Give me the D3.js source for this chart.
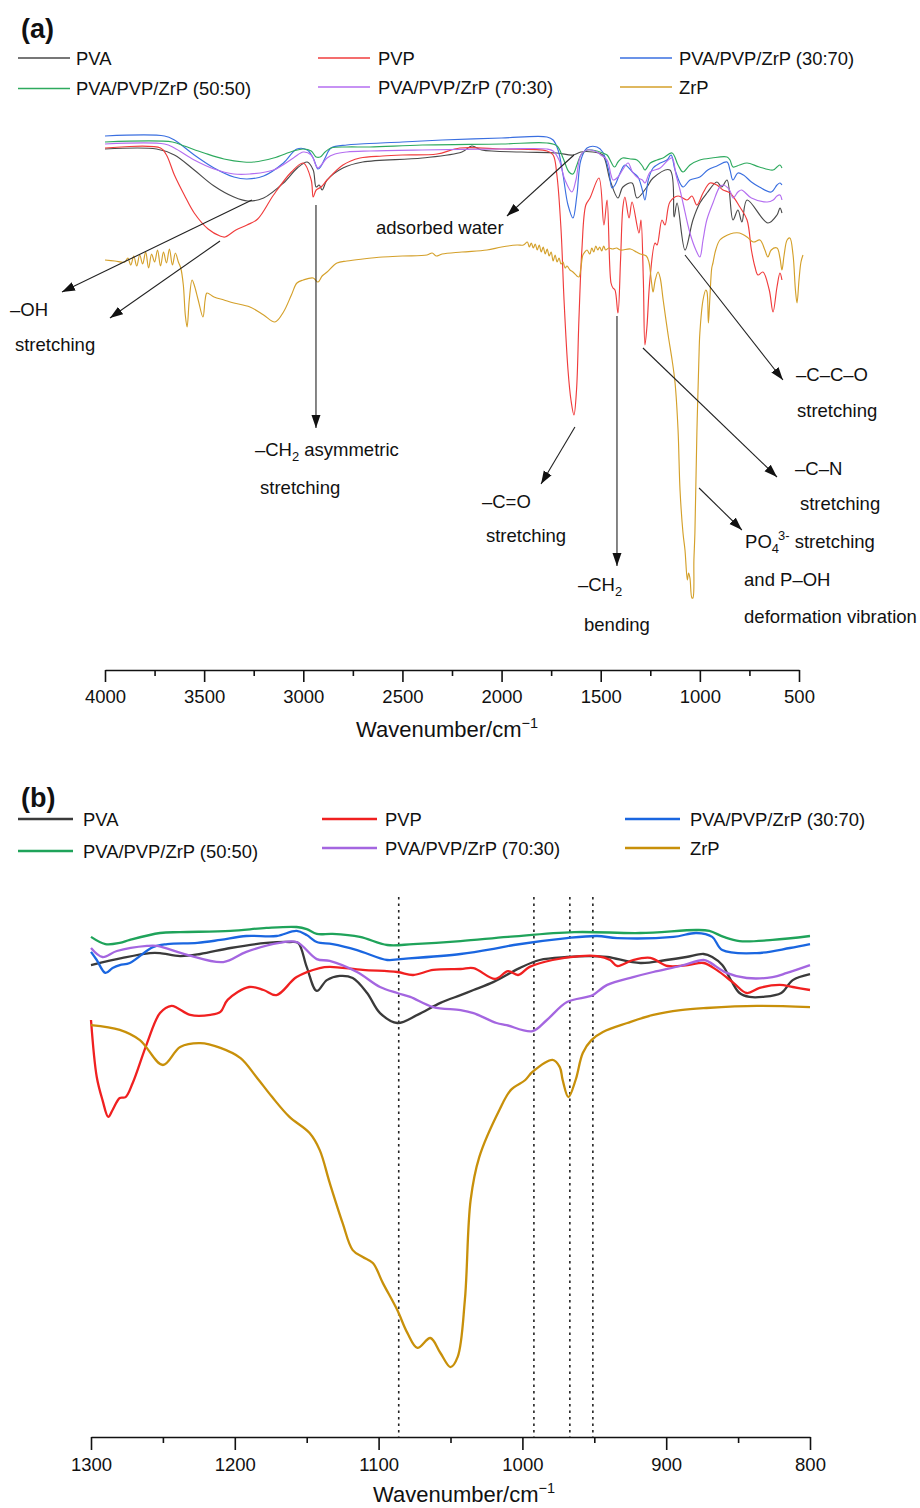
<!DOCTYPE html>
<html>
<head>
<meta charset="utf-8">
<script src="https://cdn.jsdelivr.net/npm/d3@7"></script>
<style>
  body { margin: 0; background: #fff; }
  svg text { font-family: "Liberation Sans", Arial, Helvetica, sans-serif; fill: #111; }
</style>
</head>
<body>
<svg id="chart" width="920" height="1508"></svg>
<script>
// ---------- series names and colours ----------
const seriesNames = ["PVA", "PVP", "PVA/PVP/ZrP (30:70)", "PVA/PVP/ZrP (50:50)", "PVA/PVP/ZrP (70:30)", "ZrP"];
const coloursA = ["#4a4a4a", "#f03c3c", "#3a6fe0", "#2eaa5e", "#b46ef0", "#d4a02a"];
const coloursB = ["#3a3a3a", "#f02020", "#1a66e0", "#1fa35a", "#a466e0", "#c8900a"];

// ---------- axis ticks ----------
const ticksA = [4000, 3500, 3000, 2500, 2000, 1500, 1000, 500];
const minorA = [3750, 3250, 2750, 2250, 1750, 1250, 750];
const ticksB = [1300, 1200, 1100, 1000, 900, 800];
const minorB = [1250, 1150, 1050, 950, 850];

// ---------- (a) full FTIR spectra: [wavenumber cm^-1, transmittance a.u.] ----------
const pvaA = [[4000,125.25],[3740,125.25],[3650,123.75],[3550,120],[3450,116],[3350,113.25],[3280,112.25],[3200,113],[3100,116.75],[3030,120.5],[2980,122],[2950,120],[2935,115.75],[2920,116.25],[2905,115],[2880,117.5],[2800,120.5],[2700,122],[2400,123],[2200,124.5],[2150,126],[2100,125],[1900,124.5],[1721,124.25],[1640,123.75],[1600,124.5],[1540,124.5],[1490,123.75],[1453,117.5],[1413,113],[1388,115.75],[1342,116.75],[1317,113],[1267,115.75],[1236,118],[1151,120],[1130,108.25],[1115,111.75],[1075,100],[1035,107.5],[1000,111.75],[964,114.25],[914,117],[890,115.75],[863,117.5],[833,107.5],[808,110],[788,107],[762,112.5],[657,106.75],[611,108.75],[596,110.5],[586,109.25]];

const pvpA = [[4000,125.5],[3720,125.5],[3690,123.75],[3650,118.75],[3600,113.75],[3550,109.25],[3480,105.25],[3420,103.5],[3395,103.25],[3340,105],[3284,106.25],[3230,107.75],[3150,113.75],[3060,119.5],[3000,121.75],[2960,117.5],[2950,113.25],[2935,115],[2910,115.75],[2880,117.5],[2800,121.25],[2714,123],[2600,123.5],[2500,123.75],[2326,124],[2210,125.5],[2000,125.25],[1771,124.75],[1740,123.75],[1721,118.75],[1700,105],[1685,87.5],[1665,70],[1650,62.5],[1635,58.75],[1622,65],[1610,82.5],[1595,100],[1575,111.25],[1554,113],[1509,118],[1484,106.25],[1468,112.5],[1448,91.75],[1438,90.5],[1428,90],[1413,84.25],[1400,97.5],[1388,110.75],[1378,113.25],[1357,108],[1342,112],[1307,104.25],[1297,107.5],[1285,92.5],[1277,76.25],[1267,80.75],[1252,92.5],[1226,101.75],[1216,101.25],[1191,107.5],[1176,106.25],[1151,112],[1110,113.5],[1065,112.5],[1040,113.5],[1015,111.25],[984,114.25],[949,116.75],[914,116.25],[883,115],[848,114.25],[798,110.75],[762,107.5],[740,100],[722,95.75],[707,93.75],[682,94.5],[650,90],[631,84.5],[611,90.75],[596,94.25],[586,92.5]];

const blend3070A = [[4000,128.5],[3700,128.5],[3650,127.5],[3550,123.75],[3450,120.5],[3350,118.25],[3284,117.75],[3200,118.5],[3100,121.75],[3032,125.25],[2980,125],[2950,123],[2926,120.25],[2910,121],[2890,123],[2860,125.5],[2780,126.25],[2714,126.5],[2500,127],[2300,127.5],[2000,128],[1771,128.25],[1740,127.5],[1715,125],[1690,118.75],[1665,111.25],[1640,108],[1620,113.75],[1600,122.5],[1569,125.5],[1519,125.75],[1490,124.5],[1460,120],[1443,115.5],[1428,116.25],[1400,119.5],[1378,121.25],[1340,119.5],[1312,118.25],[1290,115],[1277,112.5],[1260,117.5],[1236,120.5],[1200,121.75],[1166,122.5],[1145,123.75],[1125,120],[1085,115.75],[1050,117.5],[1000,118.25],[960,120],[914,121],[863,122],[848,120],[833,117.5],[808,119.25],[780,118.75],[740,117],[700,115.75],[640,114.5],[611,116.25],[596,116.75],[586,116.25]];

const blend5050A = [[4000,127],[3660,127],[3600,126],[3500,124.25],[3400,122.75],[3300,122],[3250,122],[3150,123],[3050,124.75],[3000,125.25],[2960,124.75],[2935,123.25],[2915,123.25],[2890,124.5],[2860,125.5],[2780,125.75],[2664,125.75],[2400,126.25],[2000,126.5],[1771,126.75],[1720,126],[1690,123],[1660,119.5],[1640,119],[1620,121.25],[1600,123.75],[1569,125],[1519,124.75],[1490,124.25],[1468,123.75],[1430,120.75],[1413,122],[1390,123],[1350,122.75],[1317,122.5],[1290,121],[1277,120],[1250,121.75],[1216,122.5],[1186,123],[1140,124.25],[1110,121.25],[1085,119.5],[1050,121.25],[1000,122.5],[940,123],[863,123.25],[848,122.5],[833,120.75],[800,121.25],[762,121.75],[700,120.75],[631,120],[611,120.75],[596,121.25],[586,120.5]];

const blend7030A = [[4000,126.5],[3700,126.5],[3650,125.5],[3550,122.5],[3450,120.25],[3350,119],[3269,119],[3150,120],[3050,123],[3000,124.5],[2960,123.75],[2935,121],[2926,120.5],[2905,121.5],[2880,123],[2840,124],[2780,124.5],[2664,124.75],[2400,125],[2000,125.25],[1771,125.25],[1740,124.75],[1710,122.5],[1680,117.5],[1645,114.5],[1625,117.5],[1600,123.75],[1569,125],[1519,124.5],[1500,123.75],[1468,122.5],[1448,118.75],[1438,117.5],[1413,118.25],[1390,120],[1362,121.75],[1340,119.5],[1312,118],[1290,117.5],[1277,116.75],[1250,119.5],[1200,120.5],[1160,122.5],[1140,123],[1120,118.75],[1100,115],[1085,111.75],[1050,104.25],[1020,100],[1000,98.25],[984,102.5],[965,107.5],[934,111.75],[900,115.75],[883,116.25],[850,115],[833,113],[808,114.5],[790,115],[740,113],[660,112],[630,112.5],[611,113.5],[596,113.75],[586,112.5]];

const zrpA = [[4000,97.5],[3950,97.25],[3900,97],[3885,98],[3870,96.25],[3855,98.5],[3840,96],[3825,98.75],[3810,96.5],[3795,99.5],[3780,95.5],[3765,99],[3750,97],[3735,100],[3720,96],[3705,99.5],[3690,96.75],[3675,100.25],[3660,96.25],[3645,99.25],[3630,97],[3618,95.5],[3605,91.25],[3595,83.75],[3586,80.75],[3575,87.5],[3561,92.5],[3550,91.25],[3530,87.5],[3506,83.25],[3495,87.5],[3486,89.25],[3450,88.25],[3400,87.5],[3350,86.75],[3269,85.75],[3200,83.75],[3143,82],[3100,84.5],[3060,88.75],[3032,91.75],[3000,92.5],[2950,93],[2926,92],[2905,93.5],[2880,94.5],[2830,96.75],[2780,97.25],[2700,97.75],[2600,98.25],[2500,98.5],[2376,98.75],[2350,99.25],[2330,98.5],[2300,99],[2200,99.5],[2074,100],[2000,100.75],[1922,101.25],[1890,101.25],[1870,102],[1860,100.75],[1850,101.75],[1840,100.5],[1830,101.5],[1820,100],[1810,101.25],[1800,99.5],[1790,100.75],[1780,99],[1770,100.25],[1760,98.5],[1750,99.5],[1740,97.25],[1730,98.75],[1720,97],[1710,98],[1700,96.5],[1690,97],[1680,95.5],[1670,96],[1655,95],[1640,94.5],[1620,93.5],[1610,93.25],[1600,95.5],[1590,98.75],[1580,99.5],[1569,100],[1555,99],[1545,100.5],[1535,99.5],[1525,101],[1515,100],[1505,100.75],[1495,99.75],[1485,101],[1475,100],[1460,100.5],[1440,100.25],[1420,100.5],[1400,100],[1350,100.25],[1320,99.5],[1300,99],[1270,98.5],[1257,97],[1245,92.5],[1236,89.5],[1225,92.5],[1211,94.5],[1200,93],[1185,87.5],[1160,78.75],[1140,72.5],[1125,66.75],[1110,55],[1100,40],[1085,29.25],[1075,25],[1063,17.5],[1057,19.25],[1050,18],[1040,13],[1035,13],[1030,22.5],[1025,29.25],[1015,54.25],[1005,72.5],[1000,79.25],[984,87.5],[970,90],[964,89.5],[957,81.75],[950,87.5],[940,95.5],[934,96.75],[920,100],[899,102.5],[860,103.75],[830,104.25],[800,104.25],[762,103.25],[730,102],[697,102.5],[672,100],[657,98.25],[640,100],[611,100.5],[596,98],[586,95],[575,98.75],[560,102.5],[546,103],[530,98.75],[518,90],[510,86.75],[500,92.5],[490,97],[480,98.75]];

// ---------- (b) 1300–800 cm^-1 region: [wavenumber cm^-1, transmittance a.u.] ----------
const pvaB = [[1300,157.3],[1278,159.7],[1259,161.3],[1252,161.3],[1238,160.3],[1224,161],[1203,163],[1178,164.7],[1162,165],[1156,164.7],[1150,156.7],[1143,148.7],[1136,152.3],[1127,153.7],[1118,153],[1108,148],[1099,141.3],[1087,138],[1073,140.7],[1057,144.7],[1043,147.3],[1034,149],[1020,151.7],[1002,156.3],[988,159],[969,160],[953,160.3],[941,160],[918,158],[900,159],[886,160],[874,161],[868,160],[861,157.3],[855,152.3],[849,148],[842,146.7],[833,146.7],[820,148],[812,152.3],[800,154.3]];

const pvpB = [[1300,139],[1296,120],[1292,112.3],[1288,106.7],[1285,109],[1280,113],[1276,113.3],[1271,118],[1261,131.3],[1252,141.3],[1244,143.7],[1240,143],[1231,140.7],[1217,140.7],[1210,141.7],[1205,145.7],[1190,150],[1180,149],[1171,147.3],[1157,153.3],[1141,156.3],[1134,156.7],[1111,155.7],[1087,155],[1076,154],[1062,155.7],[1043,156],[1034,156.3],[1019,152.7],[1010,155.3],[1003,154],[995,156.7],[979,159],[960,160.3],[948,160.3],[939,159],[934,157],[923,159],[911,159.7],[899,157],[885,157.3],[874,158],[865,155.7],[853,151.3],[844,148],[835,149.7],[821,150.7],[812,150],[800,149]];

const blend3070B = [[1300,161.7],[1296,159],[1290,154.7],[1285,156.3],[1280,157.3],[1273,158],[1257,163.3],[1247,164.3],[1226,164.7],[1210,165.7],[1192,167],[1171,167],[1157,168.7],[1150,167.3],[1143,165],[1132,164.3],[1115,162.3],[1094,159],[1085,159.3],[1043,161],[1020,162.7],[1006,164],[969,166.3],[948,167],[934,166.3],[895,166.7],[879,168],[868,166.7],[861,162.3],[837,161.3],[814,163],[800,164.3]];

const blend5050B = [[1300,166.7],[1290,164.3],[1280,164.7],[1273,165.7],[1252,168],[1238,168.3],[1203,168.7],[1178,169.7],[1157,170],[1150,169.3],[1143,167.7],[1132,167.7],[1113,166.7],[1094,164],[1076,164.3],[1043,165.3],[1010,166.7],[964,168.3],[918,168],[879,169],[870,168.7],[860,166.7],[849,165.3],[826,165.7],[800,167]];

const blend7030B = [[1300,163],[1292,160],[1282,162],[1261,163.7],[1254,163.7],[1233,160.7],[1208,158.3],[1192,161.7],[1169,164.7],[1157,165],[1143,159.3],[1134,158.7],[1115,155],[1099,150],[1087,148],[1078,146.7],[1062,143.3],[1043,142.3],[1034,141.3],[1018,138],[1011,137.3],[993,135.3],[983,139],[969,145],[955,146.7],[951,147.3],[941,150.7],[923,153.3],[909,155],[890,157],[874,159],[870,158.3],[858,154.7],[844,153],[826,153.3],[816,154.7],[800,157.3]];

const zrpB = [[1300,137.3],[1280,135.7],[1266,132.3],[1250,124],[1238,130],[1224,131.3],[1210,129.7],[1196,126.3],[1185,120],[1174,113.3],[1162,106.7],[1148,101.3],[1141,95.7],[1134,84.7],[1125,71.3],[1118,62.3],[1111,60],[1104,58],[1097,51.3],[1087,42.3],[1080,34.7],[1073,29.7],[1064,33],[1057,28],[1050,23.3],[1045,26.7],[1040,45.7],[1036,79],[1030,93.3],[1016,109],[1008,115.7],[998,119],[993,121.7],[979,125.7],[974,123.3],[972,119],[968,113.3],[963,119],[958,128],[952,132.3],[944,135],[927,138],[909,140.7],[890,142.3],[872,143],[837,143.7],[800,143.3]];

// marked band positions in (b), cm^-1
const bandLinesB = [1086, 992, 967, 951];

const dataA = [pvaA, pvpA, blend3070A, blend5050A, blend7030A, zrpA];
const dataB = [pvaB, pvpB, blend3070B, blend5050B, blend7030B, zrpB];

// ---------- scales ----------
const xA = d3.scaleLinear().domain([4000, 500]).range([105, 799]);
const yA = d3.scaleLinear().domain([0, 130]).range([650, 130]);
const xB = d3.scaleLinear().domain([1300, 800]).range([91, 810]);
const yB = d3.scaleLinear().domain([0, 180]).range([1437, 897]);

const svg = d3.select("#chart");

svg.append("defs").append("marker")
  .attr("id", "head")
  .attr("markerUnits", "userSpaceOnUse")
  .attr("markerWidth", 14).attr("markerHeight", 10)
  .attr("refX", 13).attr("refY", 5)
  .attr("orient", "auto")
  .append("path").attr("d", "M0,0.5 L13,5 L0,9.5 Z").attr("fill", "#111");

// ---------- helpers ----------
function richText(g, x, y, parts, size) {
  const t = g.append("text").attr("x", x).attr("y", y).attr("font-size", size);
  let cur = 0;
  parts.forEach(p => {
    const mode = p[1] || "";
    let target = 0, fs = size, dx = 0;
    if (mode === "sub") { target = 5; fs = size * 0.7; }
    if (mode === "sup") { target = -8; fs = size * 0.7; }
    if (mode === "supAfterSub") { target = -8; fs = size * 0.7; dx = -1; }
    t.append("tspan").attr("dy", target - cur).attr("dx", dx).attr("font-size", fs).text(p[0]);
    cur = target;
  });
  return t;
}

function legend(g, cols, rows, colours, opts) {
  seriesNames.forEach((name, i) => {
    const c = i % 3, r = Math.floor(i / 3);
    const cy = rows[r] + (c === 0 && r === 1 ? opts.leftShift : 0);
    g.append("line")
      .attr("x1", cols[c][0]).attr("x2", cols[c][1])
      .attr("y1", cy).attr("y2", cy)
      .attr("stroke", colours[i]).attr("stroke-width", opts.lw);
    g.append("text")
      .attr("x", cols[c][2]).attr("y", cy + 6.5)
      .attr("font-size", 18.4).text(name);
  });
}

function axis(g, x, yPix, major, minor, majorLen, minorLen) {
  const ax = g.append("g").attr("transform", `translate(0,${yPix})`)
    .call(d3.axisBottom(x).tickValues(major).tickSize(majorLen).tickSizeOuter(0)
      .tickPadding(8).tickFormat(d3.format("d")));
  ax.select(".domain").attr("stroke", "#111").attr("stroke-width", 1.6);
  ax.selectAll(".tick line").attr("stroke", "#111").attr("stroke-width", 1.6);
  ax.selectAll(".tick text").attr("font-size", 18.5).attr("fill", "#111")
    .attr("font-family", "Liberation Sans, Arial, sans-serif");
  const mn = g.append("g").attr("transform", `translate(0,${yPix})`)
    .call(d3.axisBottom(x).tickValues(minor).tickSize(minorLen).tickFormat(""));
  mn.select(".domain").remove();
  mn.selectAll(".tick line").attr("stroke", "#111").attr("stroke-width", 1.6);
}

function axisTitle(g, cx, y) {
  const t = g.append("text").attr("x", cx).attr("y", y).attr("text-anchor", "middle").attr("font-size", 22);
  t.append("tspan").text("Wavenumber/cm");
  t.append("tspan").attr("dy", -9).attr("font-size", 14.5).text("\u22121");
}

// ================= panel (a) =================
const gA = svg.append("g");
gA.append("text").attr("x", 21).attr("y", 38).attr("font-size", 27).attr("font-weight", "bold").text("(a)");
legend(gA, [[18, 70, 76], [318, 370, 378], [620, 672, 679]], [58, 87], coloursA, { lw: 1.3, leftShift: 1.5 });

const lineA = d3.line().x(d => xA(d[0])).y(d => yA(d[1])).curve(d3.curveCatmullRom.alpha(0.5));
dataA.forEach((s, i) => {
  gA.append("path").datum(s).attr("d", lineA)
    .attr("fill", "none").attr("stroke", coloursA[i]).attr("stroke-width", 1.15)
    .attr("stroke-linejoin", "round");
});

// band assignment arrows, anchored in (wavenumber, transmittance) space
const arrowsA = [
  [[1635, 123.75], [1973, 108.5]],
  [[3259, 112.5], [4217, 89.5]],
  [[3420, 102.25], [3975, 83]],
  [[2936, 111.25], [2936, 55.5]],
  [[1630, 55.75], [1801, 41.5]],
  [[1418, 83.5], [1418, 21]],
  [[1287, 75.5], [611, 43.25]],
  [[1075, 98.75], [581, 67.5]],
  [[1004, 40.5], [788, 30]]
];
arrowsA.forEach(a => {
  gA.append("line")
    .attr("x1", xA(a[0][0])).attr("y1", yA(a[0][1]))
    .attr("x2", xA(a[1][0])).attr("y2", yA(a[1][1]))
    .attr("stroke", "#222").attr("stroke-width", 1.1)
    .attr("marker-end", "url(#head)");
});

const labelsA = [
  { at: [2633, 104], parts: [["adsorbed water"]] },
  { at: [4479, 83.5], parts: [["\u2013OH"]] },
  { at: [4454, 74.75], parts: [["stretching"]] },
  { at: [3244, 48.5], parts: [["\u2013CH"], ["2", "sub"], [" asymmetric"]] },
  { at: [3218, 39], parts: [["stretching"]] },
  { at: [2099, 35.5], parts: [["\u2013C=O"]] },
  { at: [2079, 27], parts: [["stretching"]] },
  { at: [1615, 14.75], parts: [["\u2013CH"], ["2", "sub"]] },
  { at: [1584, 4.75], parts: [["bending"]] },
  { at: [515, 67.25], parts: [["\u2013C\u2013C\u2013O"]] },
  { at: [510, 58.25], parts: [["stretching"]] },
  { at: [520, 43.75], parts: [["\u2013C\u2013N"]] },
  { at: [495, 35], parts: [["stretching"]] },
  { at: [772, 25.5], parts: [["PO"], ["4", "sub"], ["3-", "supAfterSub"], [" stretching"]] },
  { at: [777, 16], parts: [["and P\u2013OH"]] },
  { at: [777, 6.75], parts: [["deformation vibration"]] }
];
labelsA.forEach(l => richText(gA, xA(l.at[0]), yA(l.at[1]), l.parts, 18.5));

axis(gA, xA, 670, ticksA, minorA, 12, 6);
axisTitle(gA, 447, 737);

// ================= panel (b) =================
const gB = svg.append("g");
gB.append("text").attr("x", 21).attr("y", 807).attr("font-size", 27).attr("font-weight", "bold").text("(b)");
legend(gB, [[18, 73, 83], [322, 377, 385], [625, 680, 690]], [819, 848], coloursB, { lw: 2.6, leftShift: 3 });

bandLinesB.forEach(w => {
  gB.append("line")
    .attr("x1", xB(w)).attr("x2", xB(w))
    .attr("y1", yB(180)).attr("y2", yB(0))
    .attr("stroke", "#222").attr("stroke-width", 1.6)
    .attr("stroke-dasharray", "2.5,4");
});

const lineB = d3.line().x(d => xB(d[0])).y(d => yB(d[1])).curve(d3.curveCatmullRom.alpha(0.5));
dataB.forEach((s, i) => {
  gB.append("path").datum(s).attr("d", lineB)
    .attr("fill", "none").attr("stroke", coloursB[i]).attr("stroke-width", 2.3)
    .attr("stroke-linejoin", "round");
});

axis(gB, xB, 1437, ticksB, minorB, 13, 6);
axisTitle(gB, 464, 1502);
</script>
</body>
</html>
